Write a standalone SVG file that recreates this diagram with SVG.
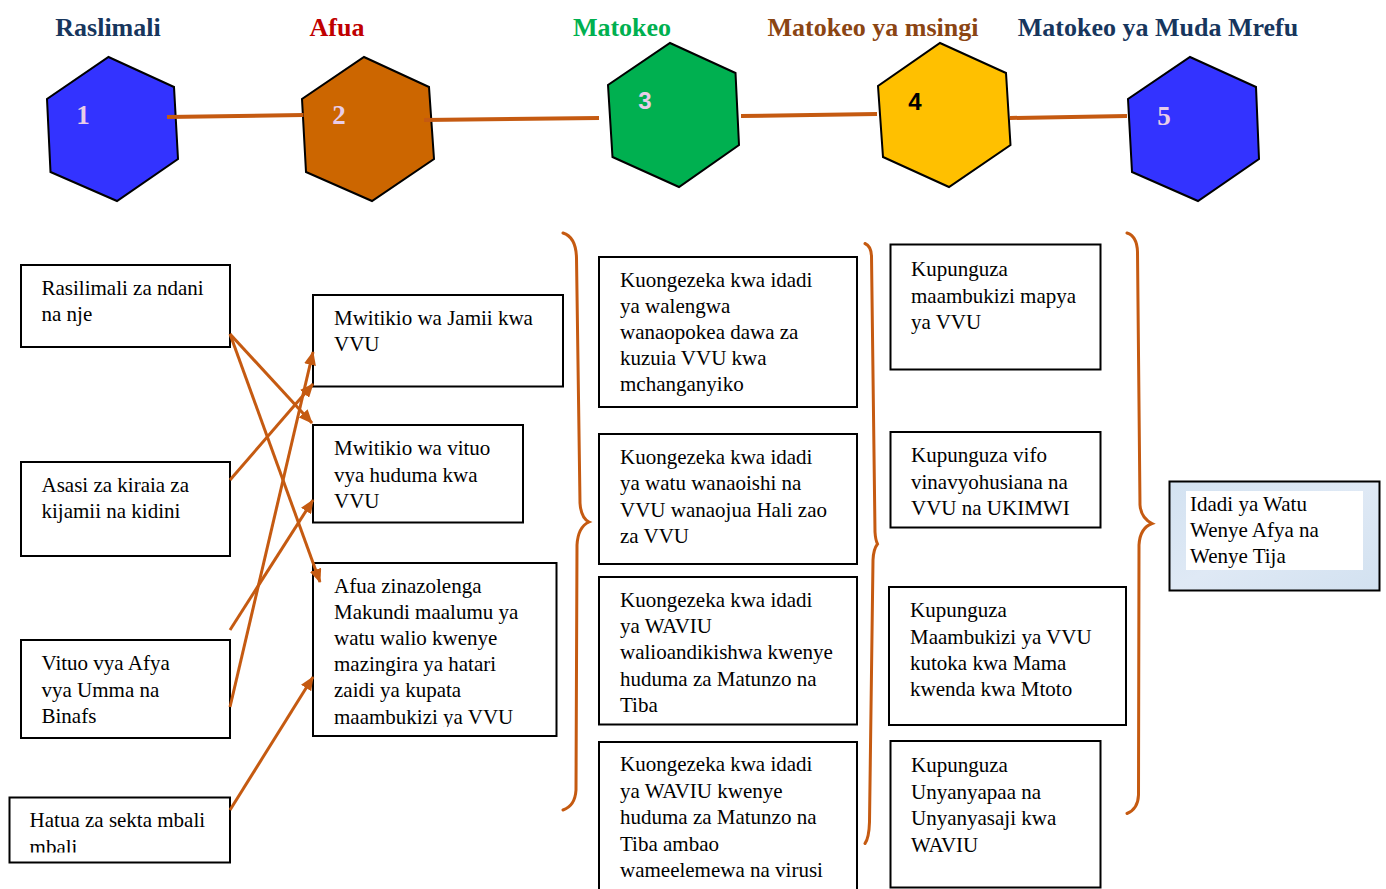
<svg xmlns="http://www.w3.org/2000/svg" width="1386" height="889" viewBox="0 0 1386 889">
<style>
.title{font-family:"Liberation Serif","Times New Roman",serif;font-weight:bold;font-size:26px;text-anchor:middle}
.hex{stroke:#000;stroke-width:2;stroke-linejoin:miter}
.num{font-family:"Liberation Serif","Times New Roman",serif;font-weight:bold;font-size:27px;fill:#E8CDE8}
.numsans{font-family:"Liberation Sans",Arial,sans-serif;font-weight:bold;font-size:24px}
.box{fill:#fff;stroke:#000;stroke-width:2}
.t{font-family:"Liberation Serif","Times New Roman",serif;font-size:21px;fill:#000}
.link{stroke:#C55A11;stroke-width:4;fill:none}
.arr{stroke:#C55A11;stroke-width:3;fill:none}
.brace{stroke:#C55A11;stroke-width:3;fill:none;stroke-linecap:round}
</style>
<defs>
<marker id="ah" viewBox="0 0 14 12" refX="13" refY="6" markerWidth="14" markerHeight="12" markerUnits="userSpaceOnUse" orient="auto">
<path d="M0,0 L14,6 L0,12 Z" fill="#C55A11"/>
</marker>
<clipPath id="clipB3"><rect x="313" y="562" width="244" height="165"/></clipPath>
<clipPath id="clipA4"><rect x="9" y="797" width="221" height="55.5"/></clipPath>
<linearGradient id="tex" x1="0" y1="0" x2="1" y2="1">
<stop offset="0" stop-color="#D3E2F1"/>
<stop offset="0.5" stop-color="#DFE9F5"/>
<stop offset="1" stop-color="#D2E1F0"/>
</linearGradient>
</defs>
<rect width="1386" height="889" fill="#fff"/>

<g id="titles">
<text class="title" x="108" y="36" fill="#17365D">Raslimali</text>
<text class="title" x="337" y="36" fill="#C00000">Afua</text>
<text class="title" x="622" y="36" fill="#00B050">Matokeo</text>
<text class="title" x="873" y="36" fill="#8B4513">Matokeo ya msingi</text>
<text class="title" x="1158" y="36" fill="#17365D">Matokeo ya Muda Mrefu</text>
</g>

<g id="hex1">
<polygon class="hex" fill="#3333FF" points="108.5,57 174,87 178,159 117,201 50.5,172 47,99"/>
<text class="num" x="83" y="124" text-anchor="middle">1</text>
</g>
<g id="hex2">
<polygon class="hex" fill="#CC6600" points="364,57 429,87 434,159 372,201 306,172 302,99"/>
<text class="num" x="339" y="124" text-anchor="middle">2</text>
</g>
<g id="hex3">
<polygon class="hex" fill="#00B050" points="670,43 735.5,73 739,145 679,187 612.5,157 608,85"/>
<text class="numsans" x="645" y="109" text-anchor="middle" fill="#E8CDE8">3</text>
</g>
<g id="hex4">
<polygon class="hex" fill="#FFC000" points="940,43 1006,73 1010.5,145 949,187 883,157 878,86"/>
<text class="numsans" x="915" y="110" text-anchor="middle" fill="#000">4</text>
</g>
<g id="hex5">
<polygon class="hex" fill="#3333FF" points="1190,57 1256,87 1259,159 1198,201 1132,172 1128,99"/>
<text class="num" x="1164" y="125" text-anchor="middle">5</text>
</g>

<g id="A1">
<rect class="box" x="21" y="265" width="209" height="82"/>
<text class="t" x="41.5" y="295">Rasilimali za ndani</text>
<text class="t" x="41.5" y="321">na nje</text>
</g>
<g id="A2">
<rect class="box" x="21" y="462" width="209" height="94"/>
<text class="t" x="41.5" y="492">Asasi za kiraia za</text>
<text class="t" x="41.5" y="518">kijamii na kidini</text>
</g>
<g id="A3">
<rect class="box" x="21" y="640" width="209" height="98"/>
<text class="t" x="41.5" y="670">Vituo vya Afya</text>
<text class="t" x="41.5" y="696.5">vya Umma na</text>
<text class="t" x="41.5" y="722.5">Binafs</text>
</g>
<g id="A4">
<rect class="box" x="9.5" y="797.5" width="220.5" height="65"/>
<g clip-path="url(#clipA4)">
<text class="t" x="29.6" y="827">Hatua za sekta mbali</text>
<text class="t" x="29.6" y="854">mbali</text>
</g>
</g>

<g id="B1">
<rect class="box" x="313" y="295" width="250" height="91.5"/>
<text class="t" x="334" y="325">Mwitikio wa Jamii kwa</text>
<text class="t" x="334" y="351">VVU</text>
</g>
<g id="B2">
<rect class="box" x="313" y="425" width="210" height="97.5"/>
<text class="t" x="334" y="455">Mwitikio wa vituo</text>
<text class="t" x="334" y="481.5">vya huduma kwa</text>
<text class="t" x="334" y="507.5">VVU</text>
</g>
<g id="B3">
<rect class="box" x="313" y="563" width="243.5" height="173"/>
<g clip-path="url(#clipB3)">
<text class="t" x="334" y="592.5">Afua zinazolenga</text>
<text class="t" x="334" y="618.5">Makundi maalumu ya</text>
<text class="t" x="334" y="644.5">watu walio kwenye</text>
<text class="t" x="334" y="671">mazingira ya hatari</text>
<text class="t" x="334" y="697">zaidi ya kupata</text>
<text class="t" x="334" y="723.5">maambukizi ya VVU</text>
</g>
</g>

<g id="C1">
<rect class="box" x="599" y="257" width="258" height="150"/>
<text class="t" x="620" y="287">Kuongezeka kwa idadi</text>
<text class="t" x="620" y="313">ya walengwa</text>
<text class="t" x="620" y="339">wanaopokea dawa za</text>
<text class="t" x="620" y="365">kuzuia VVU kwa</text>
<text class="t" x="620" y="391">mchanganyiko</text>
</g>
<g id="C2">
<rect class="box" x="599" y="434" width="258" height="130"/>
<text class="t" x="620" y="464">Kuongezeka kwa idadi</text>
<text class="t" x="620" y="490">ya watu wanaoishi na</text>
<text class="t" x="620" y="516.5">VVU wanaojua Hali zao</text>
<text class="t" x="620" y="542.5">za VVU</text>
</g>
<g id="C3">
<rect class="box" x="599" y="577" width="258" height="147.5"/>
<text class="t" x="620" y="607">Kuongezeka kwa idadi</text>
<text class="t" x="620" y="633">ya WAVIU</text>
<text class="t" x="620" y="659">walioandikishwa kwenye</text>
<text class="t" x="620" y="685.5">huduma za Matunzo na</text>
<text class="t" x="620" y="712">Tiba</text>
</g>
<g id="C4">
<rect class="box" x="599" y="742" width="258" height="160"/>
<text class="t" x="620" y="771">Kuongezeka kwa idadi</text>
<text class="t" x="620" y="797.5">ya WAVIU kwenye</text>
<text class="t" x="620" y="824">huduma za Matunzo na</text>
<text class="t" x="620" y="850.5">Tiba ambao</text>
<text class="t" x="620" y="877">wameelemewa na virusi</text>
</g>

<g id="D1">
<rect class="box" x="890.5" y="244.5" width="210" height="125"/>
<text class="t" x="911" y="276">Kupunguza</text>
<text class="t" x="911" y="302.5">maambukizi mapya</text>
<text class="t" x="911" y="329">ya VVU</text>
</g>
<g id="D2">
<rect class="box" x="890.5" y="432" width="210" height="95.5"/>
<text class="t" x="911" y="462">Kupunguza vifo</text>
<text class="t" x="911" y="489">vinavyohusiana na</text>
<text class="t" x="911" y="515">VVU na UKIMWI</text>
</g>
<g id="D3">
<rect class="box" x="889" y="587" width="237" height="138"/>
<text class="t" x="910" y="617">Kupunguza</text>
<text class="t" x="910" y="643.5">Maambukizi ya VVU</text>
<text class="t" x="910" y="670">kutoka kwa Mama</text>
<text class="t" x="910" y="696">kwenda kwa Mtoto</text>
</g>
<g id="D4">
<rect class="box" x="890.5" y="741" width="210" height="146.5"/>
<text class="t" x="911" y="772">Kupunguza</text>
<text class="t" x="911" y="798.5">Unyanyapaa na</text>
<text class="t" x="911" y="825">Unyanyasaji kwa</text>
<text class="t" x="911" y="851.5">WAVIU</text>
</g>

<g id="E">
<rect x="1169.5" y="481.5" width="210" height="109" fill="url(#tex)" stroke="#000" stroke-width="2"/>
<rect x="1186" y="491" width="177" height="79" fill="#fff"/>
<text class="t" x="1190" y="510.5">Idadi ya Watu</text>
<text class="t" x="1190" y="536.5">Wenye Afya na</text>
<text class="t" x="1190" y="562.5">Wenye Tija</text>
</g>

<g id="braces">
<path class="brace" d="M563,233 Q576,237 576.5,258 L580,503 Q581,518 589,522 Q578,527 577,545 L576,790 Q575,806 563,810"/>
<path class="brace" d="M865,243.5 Q871,246 871.5,256 L875,532 Q875.5,540 877.5,544 Q873.5,549 873,560 L869.5,822 Q869,838 865,843.5"/>
<path class="brace" d="M1127,233 Q1137,236 1137.5,252 L1140,505 Q1141,518 1152,523.5 Q1140,528 1139,545 L1138.5,795 Q1138,809 1127,813.5"/>
</g>

<g id="connectors">
<line class="link" x1="167" y1="117" x2="303.5" y2="115"/>
<line class="link" x1="424" y1="120" x2="599" y2="118"/>
<line class="link" x1="741" y1="116" x2="877" y2="114"/>
<line class="link" x1="1010" y1="118" x2="1127" y2="116"/>
<line class="arr" x1="230" y1="334" x2="312" y2="423" marker-end="url(#ah)"/>
<line class="arr" x1="230" y1="334" x2="320" y2="582" marker-end="url(#ah)"/>
<line class="arr" x1="230" y1="480" x2="313" y2="384" marker-end="url(#ah)"/>
<line class="arr" x1="230" y1="707" x2="313" y2="352" marker-end="url(#ah)"/>
<line class="arr" x1="230" y1="630" x2="313" y2="500" marker-end="url(#ah)"/>
<line class="arr" x1="230" y1="810" x2="313" y2="677" marker-end="url(#ah)"/>
</g>
</svg>
